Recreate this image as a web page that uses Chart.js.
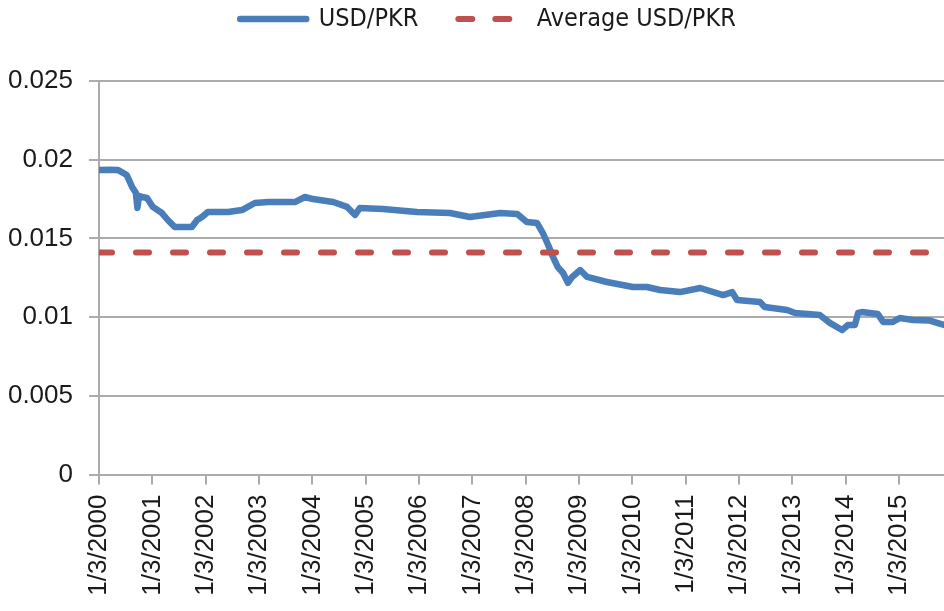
<!DOCTYPE html>
<html>
<head>
<meta charset="utf-8">
<title>USD/PKR</title>
<script src="https://cdn.jsdelivr.net/npm/chart.js@4/dist/chart.umd.min.js"></script>
<style>
  html, body { margin: 0; padding: 0; background: #fff; }
  #wrap { width: 944px; height: 611px; }
</style>
</head>
<body>
<div id="wrap"><canvas id="fxChart"></canvas></div>
<script>
// x position = decimal year, 2000.0 is 1/3/2000
var yearPos = [
    2000.00, 2000.20, 2000.36, 2000.52, 2000.62, 2000.69, 2000.72, 2000.75, 2000.81, 2000.90,
    2001.01, 2001.18, 2001.29, 2001.42, 2001.74, 2001.84, 2001.93, 2002.04, 2002.42, 2002.68,
    2002.92, 2003.17, 2003.67, 2003.86, 2004.01, 2004.39, 2004.65, 2004.80, 2004.89, 2005.32,
    2005.96, 2006.58, 2006.95, 2007.52, 2007.84, 2008.02, 2008.21, 2008.32, 2008.42, 2008.51,
    2008.60, 2008.70, 2008.79, 2008.87, 2009.02, 2009.15, 2009.52, 2010.01, 2010.27, 2010.52,
    2010.89, 2011.27, 2011.70, 2011.87, 2011.96, 2012.39, 2012.48, 2012.90, 2013.05, 2013.51,
    2013.70, 2013.93, 2014.04, 2014.17, 2014.23, 2014.30, 2014.60, 2014.70, 2014.88, 2015.01,
    2015.26, 2015.58, 2015.71, 2015.84
];
var usdPkr = [
    0.01934, 0.01936, 0.01934, 0.01903, 0.01827, 0.01790, 0.01694, 0.01770, 0.01763, 0.01757,
    0.01700, 0.01661, 0.01617, 0.01572, 0.01572, 0.01617, 0.01636, 0.01668, 0.01668, 0.01680,
    0.01725, 0.01731, 0.01731, 0.01763, 0.01750, 0.01731, 0.01700, 0.01649, 0.01693, 0.01687,
    0.01668, 0.01661, 0.01636, 0.01661, 0.01655, 0.01604, 0.01598, 0.01534, 0.01458, 0.01382,
    0.01318, 0.01280, 0.01217, 0.01255, 0.01299, 0.01255, 0.01223, 0.01191, 0.01191, 0.01172,
    0.01159, 0.01185, 0.01140, 0.01159, 0.01109, 0.01096, 0.01064, 0.01045, 0.01026, 0.01013,
    0.00963, 0.00918, 0.00950, 0.00950, 0.01026, 0.01032, 0.01020, 0.00969, 0.00969, 0.00994,
    0.00982, 0.00978, 0.00963, 0.00950
];
var averageRate = 0.0141;

var yearLabels = ['1/3/2000', '1/3/2001', '1/3/2002', '1/3/2003', '1/3/2004', '1/3/2005',
    '1/3/2006', '1/3/2007', '1/3/2008', '1/3/2009', '1/3/2010', '1/3/2011', '1/3/2012',
    '1/3/2013', '1/3/2014', '1/3/2015'];
var yTickLabels = ['0', '0.005', '0.01', '0.015', '0.02', '0.025'];
var firstYear = 2000;
var lastPos = 2015.84;

var gridColor = '#ababab';
var textColor = '#1a1a1a';

var rateData = yearPos.map(function (x, i) { return { x: x, y: usdPkr[i] }; });
var avgData = [{ x: firstYear, y: averageRate }, { x: lastPos, y: averageRate }];

// gap under the legend, and let the y labels use the space left of the padding
var layoutTweaks = {
    id: 'layoutTweaks',
    beforeInit: function (chart) {
        var fit = chart.legend.fit;
        chart.legend.fit = function () {
            fit.call(this);
            this.height += 39.5;
        };
    },
    afterLayout: function (chart) {
        chart.scales.y.left = 0;
    }
};

var ctx = document.getElementById('fxChart').getContext('2d');

var chart = new Chart(ctx, {
    type: 'line',
    data: {
        datasets: [{
            label: 'USD/PKR',
            data: rateData,
            borderColor: '#4a7ebb',
            borderWidth: 6.5,
            borderCapStyle: 'round',
            borderJoinStyle: 'round',
            pointRadius: 0,
            tension: 0,
            fill: false,
            order: 1
        }, {
            label: 'Average USD/PKR',
            data: avgData,
            borderColor: '#c0504d',
            borderWidth: 6,
            borderDash: [13, 24],
            borderCapStyle: 'round',
            pointRadius: 0,
            fill: false,
            order: 0
        }]
    },
    options: {
        responsive: true,
        maintainAspectRatio: false,
        animation: false,
        layout: {
            padding: { top: -33.5, left: 32, right: 0, bottom: 0 }
        },
        plugins: {
            legend: {
                position: 'top',
                labels: {
                    usePointStyle: true,
                    pointStyle: 'line',
                    pointStyleWidth: 66,
                    padding: 40,
                    color: textColor,
                    font: { family: "'DejaVu Sans Condensed', 'Liberation Sans', sans-serif", size: 25 },
                    sort: function (a, b) { return a.datasetIndex - b.datasetIndex; },
                    generateLabels: function (chart) {
                        var items = Chart.defaults.plugins.legend.labels.generateLabels(chart);
                        items.forEach(function (item) {
                            var ds = chart.data.datasets[item.datasetIndex];
                            item.lineDash = ds.borderDash ? [14, 23] : [];
                            item.lineCap = 'round';
                        });
                        return items;
                    }
                }
            },
            tooltip: { enabled: false }
        },
        scales: {
            x: {
                type: 'linear',
                min: firstYear,
                max: lastPos,
                ticks: {
                    stepSize: 1,
                    includeBounds: false,
                    autoSkip: false,
                    minRotation: 90,
                    maxRotation: 90,
                    padding: 10,
                    color: textColor,
                    font: { family: "'Liberation Sans', sans-serif", size: 26 },
                    callback: function (value) {
                        var i = Math.round(value - firstYear);
                        return Math.abs(value - firstYear - i) < 1e-6 ? yearLabels[i] : '';
                    }
                },
                grid: { drawOnChartArea: false, tickLength: 10, color: gridColor, lineWidth: 2 },
                border: { color: gridColor, width: 2 },
                afterFit: function (scale) { scale.height = 136.5; }
            },
            y: {
                min: 0,
                max: 0.025,
                ticks: {
                    stepSize: 0.005,
                    padding: 16,
                    color: textColor,
                    font: { family: "'Liberation Sans', sans-serif", size: 26 },
                    callback: function (value, index) { return yTickLabels[index]; }
                },
                grid: { color: gridColor, lineWidth: 2, tickLength: 10 },
                border: { color: gridColor, width: 2 },
                afterFit: function (scale) { scale.width = 67; }
            }
        }
    },
    plugins: [layoutTweaks]
});
</script>
</body>
</html>
